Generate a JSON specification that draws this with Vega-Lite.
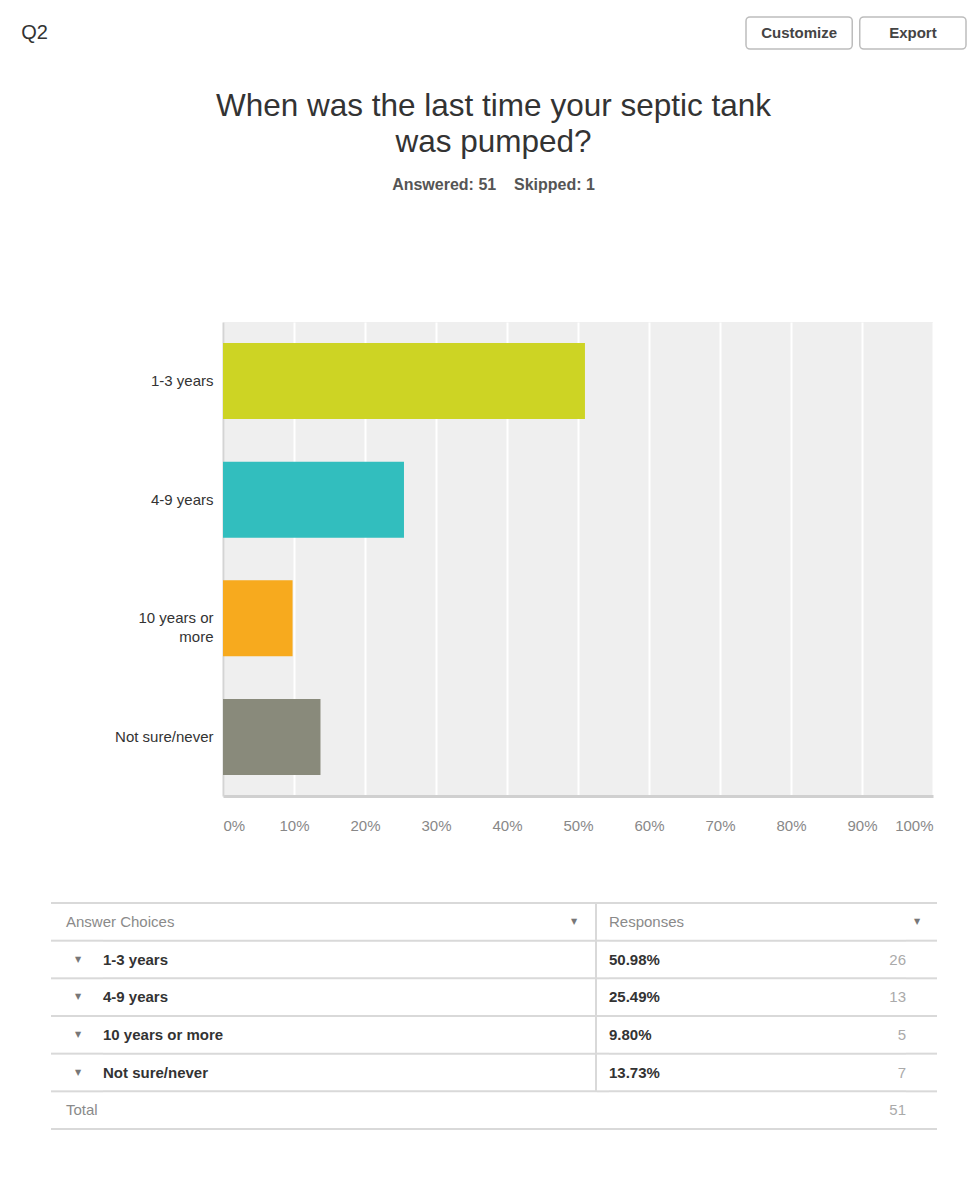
{
  "$schema": "https://vega.github.io/schema/vega-lite/v6.json",
  "padding": 0,
  "background": "white",
  "config": {"view": {"stroke": null}, "font": "Liberation Sans"},
  "datasets": {
    "header": [{"q": "Q2", "sub": "Answered: 51\u00a0\u00a0\u00a0\u00a0Skipped: 1"}],
    "buttons": [{"b": "Customize"}, {"b": "Export"}],
    "bars": [
      {"choice": "1-3 years", "pct": 50.98},
      {"choice": "4-9 years", "pct": 25.49},
      {"choice": "10 years or more", "pct": 9.80},
      {"choice": "Not sure/never", "pct": 13.73}
    ],
    "table": [
      {"row": "head", "type": "head", "choice": "Answer Choices", "pct": "Responses", "count": null},
      {"row": "1-3 years", "type": "answer", "choice": "1-3 years", "pct": "50.98%", "count": 26},
      {"row": "4-9 years", "type": "answer", "choice": "4-9 years", "pct": "25.49%", "count": 13},
      {"row": "10 years or more", "type": "answer", "choice": "10 years or more", "pct": "9.80%", "count": 5},
      {"row": "Not sure/never", "type": "answer", "choice": "Not sure/never", "pct": "13.73%", "count": 7},
      {"row": "Total", "type": "total", "choice": "Total", "pct": null, "count": 51}
    ]
  },
  "bounds": "full",
  "spacing": 0,
  "vconcat": [
    {
      "bounds": "flush",
      "spacing": 0,
      "hconcat": [
        {"width": 69, "height": 66, "data": {"name": "header"},
         "mark": {"type": "text", "fontSize": 20, "color": "#333", "baseline": "middle", "align": "center"},
         "encoding": {"text": {"field": "q", "type": "nominal"}}},
        {"width": 677, "height": 66, "data": {"values": []}, "mark": "point"},
        {"width": 220, "height": 66, "data": {"name": "buttons"},
         "encoding": {
           "x": {"field": "b", "type": "nominal", "sort": null, "axis": null, "scale": {"type": "band", "paddingInner": 0.066, "paddingOuter": 0}},
           "y": {"datum": "btn", "type": "nominal", "axis": null, "scale": {"type": "band", "paddingInner": 0, "paddingOuter": 0.53}}
         },
         "layer": [
           {"mark": {"type": "rect", "fill": "white", "stroke": "#bdbdbd", "strokeWidth": 1.5, "cornerRadius": 4}},
           {"mark": {"type": "text", "fontSize": 15, "fontWeight": "bold", "color": "#444", "baseline": "middle"},
            "encoding": {"text": {"field": "b", "type": "nominal"}}}
         ]}
      ]
    },
    {
      "width": 967, "height": 256, "data": {"name": "header"},
      "layer": [
        {"mark": {"type": "text", "text": ["When was the last time your septic tank", "was pumped?"], "fontSize": 31.5, "color": "#333", "lineHeight": 36, "dx": 10, "dy": -87, "baseline": "middle", "align": "center"}},
        {"mark": {"type": "text", "fontSize": 16, "fontWeight": "bold", "color": "#555", "dx": 10, "dy": -9, "baseline": "middle", "align": "center"},
         "encoding": {"text": {"field": "sub", "type": "nominal"}}}
      ]
    },
    {
      "bounds": "flush",
      "spacing": 0,
      "hconcat": [
        {"width": 223, "height": 474, "data": {"values": []}, "mark": "point"},
        {
          "width": 710, "height": 474,
          "view": {"fill": "#efefef", "stroke": null},
          "data": {"name": "bars"},
          "mark": {"type": "bar"},
          "encoding": {
            "y": {"field": "choice", "type": "nominal", "sort": null,
                  "scale": {"type": "band", "domain": ["1-3 years", "4-9 years", "10 years or more", "Not sure/never"], "paddingInner": 0.36, "paddingOuter": 0.177},
                  "axis": {"title": null, "ticks": false, "tickSize": 0, "labelPadding": 10, "labelFontSize": 15, "labelColor": "#333", "labelLimit": 300, "domain": true, "domainColor": "#d4d4d4", "domainWidth": 2, "grid": false, "labelLineHeight": 19, "labelExpr": "datum.value == '10 years or more' ? ['10 years or', 'more'] : datum.value"}},
            "x": {"field": "pct", "type": "quantitative",
                  "scale": {"domain": [0, 100], "nice": false, "zero": true},
                  "axis": {"title": null, "values": [0, 10, 20, 30, 40, 50, 60, 70, 80, 90, 100], "labelExpr": "datum.value + '%'", "grid": true, "gridColor": "#ffffff", "gridWidth": 2, "ticks": false, "tickSize": 0, "labelPadding": 22, "labelFontSize": 15, "labelColor": "#888", "labelFlush": true, "domain": true, "domainColor": "#d0d0d0", "domainWidth": 3}},
            "color": {"field": "choice", "type": "nominal",
                      "scale": {"domain": ["1-3 years", "4-9 years", "10 years or more", "Not sure/never"], "range": ["#cdd424", "#32bebe", "#f7aa1e", "#898a7b"]},
                      "legend": null}
          }
        }
      ]
    },
    {"width": 967, "height": 69, "data": {"values": []}, "mark": "point"},
    {
      "bounds": "flush",
      "spacing": 0,
      "hconcat": [
        {"width": 51, "height": 226, "data": {"values": []}, "mark": "point"},
        {"width": 15, "height": 226, "data": {"name": "table"},
         "layer": [
           {"mark": {"type": "rule", "color": "#d9d9d9", "strokeWidth": 2}, "encoding": {"y": {"field": "row", "type": "nominal", "bandPosition": 0, "axis": null, "scale": {"type": "band", "domain": ["head", "1-3 years", "4-9 years", "10 years or more", "Not sure/never", "Total"], "paddingInner": 0, "paddingOuter": 0}}}},
           {"transform": [{"filter": "datum.type == 'total'"}], "mark": {"type": "rule", "color": "#d9d9d9", "strokeWidth": 2}, "encoding": {"y": {"field": "row", "type": "nominal", "bandPosition": 1, "axis": null, "scale": {"type": "band", "domain": ["head", "1-3 years", "4-9 years", "10 years or more", "Not sure/never", "Total"], "paddingInner": 0, "paddingOuter": 0}}}}
         ]},
        {"width": 24, "height": 226, "data": {"name": "table"},
         "layer": [
           {"mark": {"type": "rule", "color": "#d9d9d9", "strokeWidth": 2}, "encoding": {"y": {"field": "row", "type": "nominal", "bandPosition": 0, "axis": null, "scale": {"type": "band", "domain": ["head", "1-3 years", "4-9 years", "10 years or more", "Not sure/never", "Total"], "paddingInner": 0, "paddingOuter": 0}}}},
           {"transform": [{"filter": "datum.type == 'total'"}], "mark": {"type": "rule", "color": "#d9d9d9", "strokeWidth": 2}, "encoding": {"y": {"field": "row", "type": "nominal", "bandPosition": 1, "axis": null, "scale": {"type": "band", "domain": ["head", "1-3 years", "4-9 years", "10 years or more", "Not sure/never", "Total"], "paddingInner": 0, "paddingOuter": 0}}}},
           {"transform": [{"filter": "datum.type != 'answer'"}], "mark": {"type": "text", "align": "left", "baseline": "middle", "fontSize": 15, "color": "#8a8a8a"},
            "encoding": {"y": {"field": "row", "type": "nominal", "bandPosition": 0.5, "axis": null, "scale": {"type": "band", "domain": ["head", "1-3 years", "4-9 years", "10 years or more", "Not sure/never", "Total"], "paddingInner": 0, "paddingOuter": 0}}, "x": {"value": 0}, "text": {"field": "choice", "type": "nominal"}}},
           {"transform": [{"filter": "datum.type == 'answer'"}], "mark": {"type": "text", "text": "▼", "font": "DejaVu Sans", "fontSize": 8, "color": "#777", "baseline": "middle", "align": "center"},
            "encoding": {"y": {"field": "row", "type": "nominal", "bandPosition": 0.5, "axis": null, "scale": {"type": "band", "domain": ["head", "1-3 years", "4-9 years", "10 years or more", "Not sure/never", "Total"], "paddingInner": 0, "paddingOuter": 0}}}}
         ]},
        {"width": 13, "height": 226, "data": {"name": "table"},
         "layer": [
           {"mark": {"type": "rule", "color": "#d9d9d9", "strokeWidth": 2}, "encoding": {"y": {"field": "row", "type": "nominal", "bandPosition": 0, "axis": null, "scale": {"type": "band", "domain": ["head", "1-3 years", "4-9 years", "10 years or more", "Not sure/never", "Total"], "paddingInner": 0, "paddingOuter": 0}}}},
           {"transform": [{"filter": "datum.type == 'total'"}], "mark": {"type": "rule", "color": "#d9d9d9", "strokeWidth": 2}, "encoding": {"y": {"field": "row", "type": "nominal", "bandPosition": 1, "axis": null, "scale": {"type": "band", "domain": ["head", "1-3 years", "4-9 years", "10 years or more", "Not sure/never", "Total"], "paddingInner": 0, "paddingOuter": 0}}}}
         ]},
        {"width": 450, "height": 226, "data": {"name": "table"},
         "layer": [
           {"mark": {"type": "rule", "color": "#d9d9d9", "strokeWidth": 2}, "encoding": {"y": {"field": "row", "type": "nominal", "bandPosition": 0, "axis": null, "scale": {"type": "band", "domain": ["head", "1-3 years", "4-9 years", "10 years or more", "Not sure/never", "Total"], "paddingInner": 0, "paddingOuter": 0}}}},
           {"transform": [{"filter": "datum.type == 'total'"}], "mark": {"type": "rule", "color": "#d9d9d9", "strokeWidth": 2}, "encoding": {"y": {"field": "row", "type": "nominal", "bandPosition": 1, "axis": null, "scale": {"type": "band", "domain": ["head", "1-3 years", "4-9 years", "10 years or more", "Not sure/never", "Total"], "paddingInner": 0, "paddingOuter": 0}}}},
           {"transform": [{"filter": "datum.type == 'answer'"}], "mark": {"type": "text", "align": "left", "baseline": "middle", "fontSize": 15, "fontWeight": "bold", "color": "#333"},
            "encoding": {"y": {"field": "row", "type": "nominal", "bandPosition": 0.5, "axis": null, "scale": {"type": "band", "domain": ["head", "1-3 years", "4-9 years", "10 years or more", "Not sure/never", "Total"], "paddingInner": 0, "paddingOuter": 0}}, "x": {"value": 0}, "text": {"field": "choice", "type": "nominal"}}}
         ]},
        {"width": 42, "height": 226, "data": {"name": "table"},
         "layer": [
           {"mark": {"type": "rule", "color": "#d9d9d9", "strokeWidth": 2}, "encoding": {"y": {"field": "row", "type": "nominal", "bandPosition": 0, "axis": null, "scale": {"type": "band", "domain": ["head", "1-3 years", "4-9 years", "10 years or more", "Not sure/never", "Total"], "paddingInner": 0, "paddingOuter": 0}}}},
           {"transform": [{"filter": "datum.type == 'total'"}], "mark": {"type": "rule", "color": "#d9d9d9", "strokeWidth": 2}, "encoding": {"y": {"field": "row", "type": "nominal", "bandPosition": 1, "axis": null, "scale": {"type": "band", "domain": ["head", "1-3 years", "4-9 years", "10 years or more", "Not sure/never", "Total"], "paddingInner": 0, "paddingOuter": 0}}}},
           {"transform": [{"filter": "datum.type == 'head'"}], "mark": {"type": "text", "text": "▼", "font": "DejaVu Sans", "fontSize": 8, "color": "#777", "baseline": "middle", "align": "center"},
            "encoding": {"y": {"field": "row", "type": "nominal", "bandPosition": 0.5, "axis": null, "scale": {"type": "band", "domain": ["head", "1-3 years", "4-9 years", "10 years or more", "Not sure/never", "Total"], "paddingInner": 0, "paddingOuter": 0}}}}
         ]},
        {"width": 2, "height": 226, "data": {"name": "table"},
         "layer": [
           {"mark": {"type": "rule", "color": "#d9d9d9", "strokeWidth": 2}, "encoding": {"y": {"field": "row", "type": "nominal", "bandPosition": 0, "axis": null, "scale": {"type": "band", "domain": ["head", "1-3 years", "4-9 years", "10 years or more", "Not sure/never", "Total"], "paddingInner": 0, "paddingOuter": 0}}}},
           {"transform": [{"filter": "datum.type == 'total'"}], "mark": {"type": "rule", "color": "#d9d9d9", "strokeWidth": 2}, "encoding": {"y": {"field": "row", "type": "nominal", "bandPosition": 1, "axis": null, "scale": {"type": "band", "domain": ["head", "1-3 years", "4-9 years", "10 years or more", "Not sure/never", "Total"], "paddingInner": 0, "paddingOuter": 0}}}},
           {"transform": [{"filter": "datum.type != 'total'"}], "mark": {"type": "rect", "color": "#d9d9d9"},
            "encoding": {"y": {"field": "row", "type": "nominal", "axis": null, "scale": {"type": "band", "domain": ["head", "1-3 years", "4-9 years", "10 years or more", "Not sure/never", "Total"], "paddingInner": 0, "paddingOuter": 0}}, "x": {"value": 0}, "x2": {"value": "width"}}}
         ]},
        {"width": 12, "height": 226, "data": {"name": "table"},
         "layer": [
           {"mark": {"type": "rule", "color": "#d9d9d9", "strokeWidth": 2}, "encoding": {"y": {"field": "row", "type": "nominal", "bandPosition": 0, "axis": null, "scale": {"type": "band", "domain": ["head", "1-3 years", "4-9 years", "10 years or more", "Not sure/never", "Total"], "paddingInner": 0, "paddingOuter": 0}}}},
           {"transform": [{"filter": "datum.type == 'total'"}], "mark": {"type": "rule", "color": "#d9d9d9", "strokeWidth": 2}, "encoding": {"y": {"field": "row", "type": "nominal", "bandPosition": 1, "axis": null, "scale": {"type": "band", "domain": ["head", "1-3 years", "4-9 years", "10 years or more", "Not sure/never", "Total"], "paddingInner": 0, "paddingOuter": 0}}}}
         ]},
        {"width": 297, "height": 226, "data": {"name": "table"},
         "layer": [
           {"mark": {"type": "rule", "color": "#d9d9d9", "strokeWidth": 2}, "encoding": {"y": {"field": "row", "type": "nominal", "bandPosition": 0, "axis": null, "scale": {"type": "band", "domain": ["head", "1-3 years", "4-9 years", "10 years or more", "Not sure/never", "Total"], "paddingInner": 0, "paddingOuter": 0}}}},
           {"transform": [{"filter": "datum.type == 'total'"}], "mark": {"type": "rule", "color": "#d9d9d9", "strokeWidth": 2}, "encoding": {"y": {"field": "row", "type": "nominal", "bandPosition": 1, "axis": null, "scale": {"type": "band", "domain": ["head", "1-3 years", "4-9 years", "10 years or more", "Not sure/never", "Total"], "paddingInner": 0, "paddingOuter": 0}}}},
           {"transform": [{"filter": "datum.type == 'answer'"}], "mark": {"type": "text", "align": "left", "baseline": "middle", "fontSize": 15, "fontWeight": "bold", "color": "#333"},
            "encoding": {"y": {"field": "row", "type": "nominal", "bandPosition": 0.5, "axis": null, "scale": {"type": "band", "domain": ["head", "1-3 years", "4-9 years", "10 years or more", "Not sure/never", "Total"], "paddingInner": 0, "paddingOuter": 0}}, "x": {"value": 0}, "text": {"field": "pct", "type": "nominal"}}},
           {"transform": [{"filter": "datum.type == 'head'"}], "mark": {"type": "text", "align": "left", "baseline": "middle", "fontSize": 15, "color": "#8a8a8a"},
            "encoding": {"y": {"field": "row", "type": "nominal", "bandPosition": 0.5, "axis": null, "scale": {"type": "band", "domain": ["head", "1-3 years", "4-9 years", "10 years or more", "Not sure/never", "Total"], "paddingInner": 0, "paddingOuter": 0}}, "x": {"value": 0}, "text": {"field": "pct", "type": "nominal"}}},
           {"transform": [{"filter": "datum.count != null"}], "mark": {"type": "text", "align": "right", "baseline": "middle", "fontSize": 15, "color": "#aaaaaa"},
            "encoding": {"y": {"field": "row", "type": "nominal", "bandPosition": 0.5, "axis": null, "scale": {"type": "band", "domain": ["head", "1-3 years", "4-9 years", "10 years or more", "Not sure/never", "Total"], "paddingInner": 0, "paddingOuter": 0}}, "x": {"value": "width"}, "text": {"field": "count", "type": "quantitative"}}}
         ]},
        {"width": 22, "height": 226, "data": {"name": "table"},
         "layer": [
           {"mark": {"type": "rule", "color": "#d9d9d9", "strokeWidth": 2}, "encoding": {"y": {"field": "row", "type": "nominal", "bandPosition": 0, "axis": null, "scale": {"type": "band", "domain": ["head", "1-3 years", "4-9 years", "10 years or more", "Not sure/never", "Total"], "paddingInner": 0, "paddingOuter": 0}}}},
           {"transform": [{"filter": "datum.type == 'total'"}], "mark": {"type": "rule", "color": "#d9d9d9", "strokeWidth": 2}, "encoding": {"y": {"field": "row", "type": "nominal", "bandPosition": 1, "axis": null, "scale": {"type": "band", "domain": ["head", "1-3 years", "4-9 years", "10 years or more", "Not sure/never", "Total"], "paddingInner": 0, "paddingOuter": 0}}}},
           {"transform": [{"filter": "datum.type == 'head'"}], "mark": {"type": "text", "text": "▼", "font": "DejaVu Sans", "fontSize": 8, "color": "#777", "baseline": "middle", "align": "center"},
            "encoding": {"y": {"field": "row", "type": "nominal", "bandPosition": 0.5, "axis": null, "scale": {"type": "band", "domain": ["head", "1-3 years", "4-9 years", "10 years or more", "Not sure/never", "Total"], "paddingInner": 0, "paddingOuter": 0}}}}
         ]},
        {"width": 9, "height": 226, "data": {"name": "table"},
         "layer": [
           {"mark": {"type": "rule", "color": "#d9d9d9", "strokeWidth": 2}, "encoding": {"y": {"field": "row", "type": "nominal", "bandPosition": 0, "axis": null, "scale": {"type": "band", "domain": ["head", "1-3 years", "4-9 years", "10 years or more", "Not sure/never", "Total"], "paddingInner": 0, "paddingOuter": 0}}}},
           {"transform": [{"filter": "datum.type == 'total'"}], "mark": {"type": "rule", "color": "#d9d9d9", "strokeWidth": 2}, "encoding": {"y": {"field": "row", "type": "nominal", "bandPosition": 1, "axis": null, "scale": {"type": "band", "domain": ["head", "1-3 years", "4-9 years", "10 years or more", "Not sure/never", "Total"], "paddingInner": 0, "paddingOuter": 0}}}}
         ]}
      ]
    }
  ]
}
